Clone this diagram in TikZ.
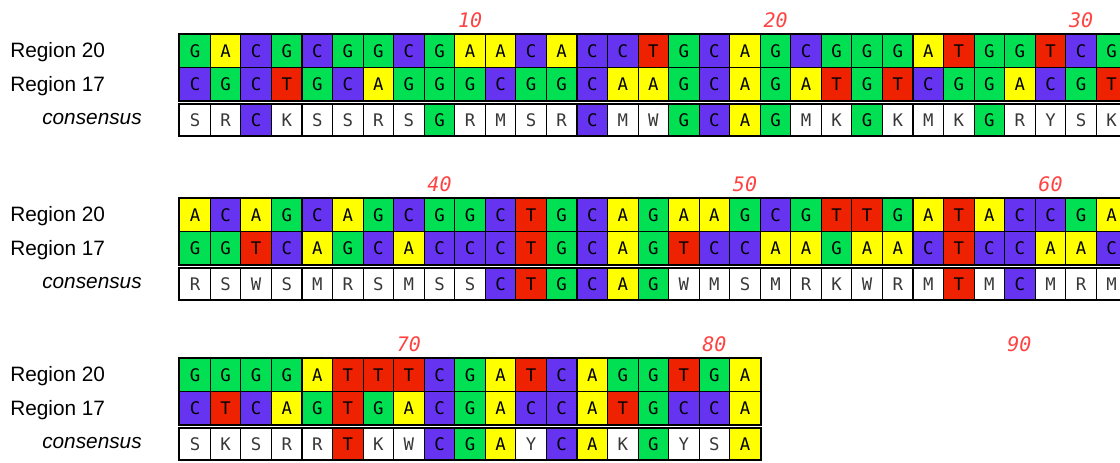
\documentclass[tikz,border=0pt]{standalone}
\usepackage{fontspec}
\setmainfont{Liberation Sans}
\newfontfamily\basefont{DejaVu Sans Mono}
\usetikzlibrary{math, positioning}
\definecolor{ntA}{RGB}{255,255,0}
\definecolor{ntC}{RGB}{102,51,240}
\definecolor{ntG}{RGB}{0,224,82}
\definecolor{ntT}{RGB}{238,34,0}
\definecolor{posred}{RGB}{255,66,66}

\tikzset{
  base/.style={draw=black, line width=0.8pt, inner sep=0pt, anchor=north west,
    minimum width=22.9pt, text=black, font=\basefont\fontsize{13}{13}\selectfont},
  bA/.style={fill=ntA}, bC/.style={fill=ntC}, bG/.style={fill=ntG}, bT/.style={fill=ntT},
  bR/.style={fill=white, text=black!78}, bY/.style={bR}, bS/.style={bR},
  bW/.style={bR}, bK/.style={bR}, bM/.style={bR},
  frame/.style={draw=black, line width=1.3pt},
  rowlab/.style={anchor=west, inner sep=0pt, font=\fontsize{15.6}{18}\selectfont},
  posnum/.style={inner sep=0pt, text=posred, font=\basefont\itshape\fontsize{15}{15}\selectfont},
}

\begin{document}
\begin{tikzpicture}[x=0.75pt, y=-0.75pt]
\tikzmath{
\xo=179.3;
\w=30.55;
\yA=34.3;
\yB=198.3;
\yC=358.3;
\hr=24.75;
\hc=23.25;
}
\useasboundingbox (0,0) rectangle (1120,462);

% block 1
\foreach \b [count=\i] in {G,A,C,G,C,G,G,C,G,A,A,C,A,C,C,T,G,C,A,G,C,G,G,G,A,T,G,G,T,C,G}
  \node[base, b\b, minimum height=\hr pt] (r20a-\i) at ({\xo+(\i-1)*\w},\yA) {\b};
\foreach \b [count=\i] in {C,G,C,T,G,C,A,G,G,G,C,G,G,C,A,A,G,C,A,G,A,T,G,T,C,G,G,A,C,G,T}
  \node[base, b\b, minimum height=\hr pt] (r17a-\i) at ({\xo+(\i-1)*\w},\yA+33) {\b};
\foreach \b [count=\i] in {S,R,C,K,S,S,R,S,G,R,M,S,R,C,M,W,G,C,A,G,M,K,G,K,M,K,G,R,Y,S,K}
  \node[base, b\b, minimum height=\hc pt] (consa-\i) at ({\xo+(\i-1)*\w},\yA+70) {\b};
\draw[frame] (r20a-1.north west) rectangle (r17a-31.south east);
\draw[frame] (consa-1.north west) rectangle (consa-31.south east);
\node[rowlab] (lab20a) at (10,\yA+18) {Region 20};
\node[rowlab] (lab17a) at (10,\yA+51.5) {Region 17};
\node[rowlab, font=\itshape\fontsize{15.6}{18}\selectfont] (labca) at (42,\yA+84.5) {consensus};
\node[posnum, above=5pt of r20a-10] (n10) {10};
\node[posnum, above=5pt of r20a-20] (n20) {20};
\node[posnum, above=5pt of r20a-30] (n30) {30};

% block 2
\foreach \b [count=\i] in {A,C,A,G,C,A,G,C,G,G,C,T,G,C,A,G,A,A,G,C,G,T,T,G,A,T,A,C,C,G,A}
  \node[base, b\b, minimum height=\hr pt] (r20b-\i) at ({\xo+(\i-1)*\w},\yB) {\b};
\foreach \b [count=\i] in {G,G,T,C,A,G,C,A,C,C,C,T,G,C,A,G,T,C,C,A,A,G,A,A,C,T,C,C,A,A,C}
  \node[base, b\b, minimum height=\hr pt] (r17b-\i) at ({\xo+(\i-1)*\w},\yB+33) {\b};
\foreach \b [count=\i] in {R,S,W,S,M,R,S,M,S,S,C,T,G,C,A,G,W,M,S,M,R,K,W,R,M,T,M,C,M,R,M}
  \node[base, b\b, minimum height=\hc pt] (consb-\i) at ({\xo+(\i-1)*\w},\yB+70) {\b};
\draw[frame] (r20b-1.north west) rectangle (r17b-31.south east);
\draw[frame] (consb-1.north west) rectangle (consb-31.south east);
\node[rowlab] (lab20b) at (10,\yB+18) {Region 20};
\node[rowlab] (lab17b) at (10,\yB+51.5) {Region 17};
\node[rowlab, font=\itshape\fontsize{15.6}{18}\selectfont] (labcb) at (42,\yB+84.5) {consensus};
\node[posnum, above=5pt of r20b-9] (n40) {40};
\node[posnum, above=5pt of r20b-19] (n50) {50};
\node[posnum, above=5pt of r20b-29] (n60) {60};

% block 3
\foreach \b [count=\i] in {G,G,G,G,A,T,T,T,C,G,A,T,C,A,G,G,T,G,A}
  \node[base, b\b, minimum height=\hr pt] (r20c-\i) at ({\xo+(\i-1)*\w},\yC) {\b};
\foreach \b [count=\i] in {C,T,C,A,G,T,G,A,C,G,A,C,C,A,T,G,C,C,A}
  \node[base, b\b, minimum height=\hr pt] (r17c-\i) at ({\xo+(\i-1)*\w},\yC+33) {\b};
\foreach \b [count=\i] in {S,K,S,R,R,T,K,W,C,G,A,Y,C,A,K,G,Y,S,A}
  \node[base, b\b, minimum height=\hc pt] (consc-\i) at ({\xo+(\i-1)*\w},\yC+70) {\b};
\draw[frame] (r20c-1.north west) rectangle (r17c-19.south east);
\draw[frame] (consc-1.north west) rectangle (consc-19.south east);
\node[rowlab] (lab20c) at (10,\yC+18) {Region 20};
\node[rowlab] (lab17c) at (10,\yC+51.5) {Region 17};
\node[rowlab, font=\itshape\fontsize{15.6}{18}\selectfont] (labcc) at (42,\yC+84.5) {consensus};
\coordinate (c90) at ({\xo+27.5*\w},\yC);
\node[posnum, above=5pt of r20c-8] (n70) {70};
\node[posnum, above=5pt of r20c-18] (n80) {80};
\node[posnum, above=5pt of c90] (n90) {90};
\end{tikzpicture}
\end{document}
